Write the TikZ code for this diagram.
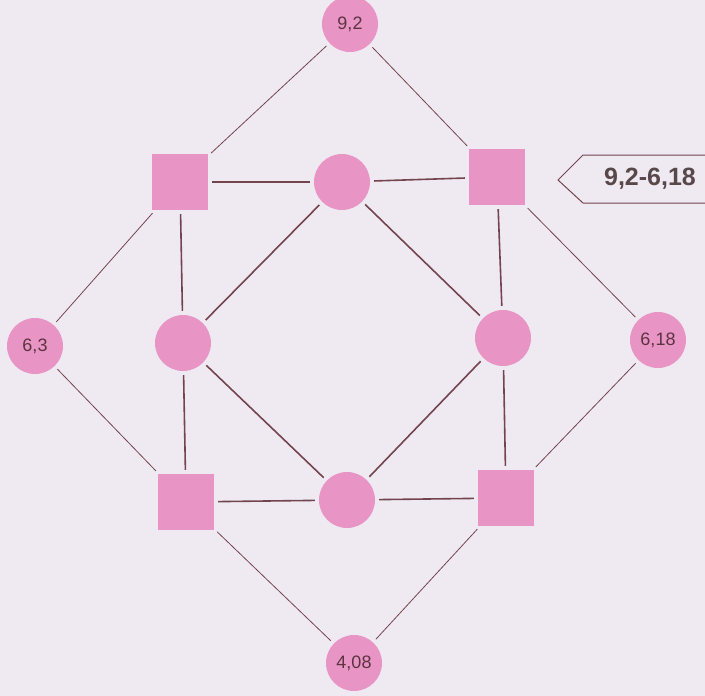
\documentclass[tikz,border=0pt]{standalone}
\usepackage{fontspec}
\setmainfont{Liberation Sans}

\definecolor{bgcol}{RGB}{239,234,242}
\definecolor{pinkcol}{RGB}{232,148,196}
\definecolor{linecol}{RGB}{116,68,78}
\definecolor{txtcol}{RGB}{92,52,64}
\definecolor{lblcol}{RGB}{88,72,74}

\begin{document}
\begin{tikzpicture}[x=1pt,y=-1pt,
    circ/.style={circle,fill=pinkcol,minimum size=56pt,inner sep=0pt,text=txtcol,font=\fontsize{18}{18}\selectfont},
    sq/.style={rectangle,fill=pinkcol,minimum size=56pt,inner sep=0pt},
    thinlink/.style={draw=linecol,line width=0.8pt,shorten <=4pt,shorten >=4pt},
    thicklink/.style={draw=linecol,line width=1.6pt,shorten <=4pt,shorten >=4pt}]
        \fill [bgcol] (0,0) rectangle (705,696);
        \clip (0,0) rectangle (705,696);
        % outer circles
        \node[circ] (top) at (350,24) {9,2};
        \node[circ] (left) at (35,346) {6,3};
        \node[circ] (right) at (658,340) {6,18};
        \node[circ] (bottom) at (354,663) {4,08};
        % squares
        \node[sq] (tl) at (180,182) {};
        \node[sq] (tr) at (497,177) {};
        \node[sq] (bl) at (186,502) {};
        \node[sq] (br) at (506,498) {};
        % inner circles
        \node[circ] (mt) at (342,182) {};
        \node[circ] (ml) at (183,343) {};
        \node[circ] (mr) at (503,338) {};
        \node[circ] (mb) at (347,500) {};
        % outer links
        \draw [thinlink] (top) -- (tl);
        \draw [thinlink] (top) -- (tr);
        \draw [thinlink] (tl) -- (left);
        \draw [thinlink] (left) -- (bl);
        \draw [thinlink] (tr) -- (right);
        \draw [thinlink] (right) -- (br);
        \draw [thinlink] (bl) -- (bottom);
        \draw [thinlink] (br) -- (bottom);
        % square links
        \draw [thicklink] (tl) -- (mt);
        \draw [thicklink] (mt) -- (tr);
        \draw [thicklink] (tl) -- (ml);
        \draw [thicklink] (ml) -- (bl);
        \draw [thicklink] (tr) -- (mr);
        \draw [thicklink] (mr) -- (br);
        \draw [thicklink] (bl) -- (mb);
        \draw [thicklink] (mb) -- (br);
        % inner diamond
        \draw [thicklink] (mt) -- (ml);
        \draw [thicklink] (mt) -- (mr);
        \draw [thicklink] (ml) -- (mb);
        \draw [thicklink] (mr) -- (mb);
        % label
        \coordinate (tip) at (558,180);
        \node[text=lblcol,font=\bfseries\fontsize{25}{25}\selectfont] (range) at (650,179) {9,2-6,18};
        \draw [linecol,line width=1pt] (720,155) -- (583,155) -- (tip) -- (583,203) -- (720,203);
    \end{tikzpicture}
\end{document}
